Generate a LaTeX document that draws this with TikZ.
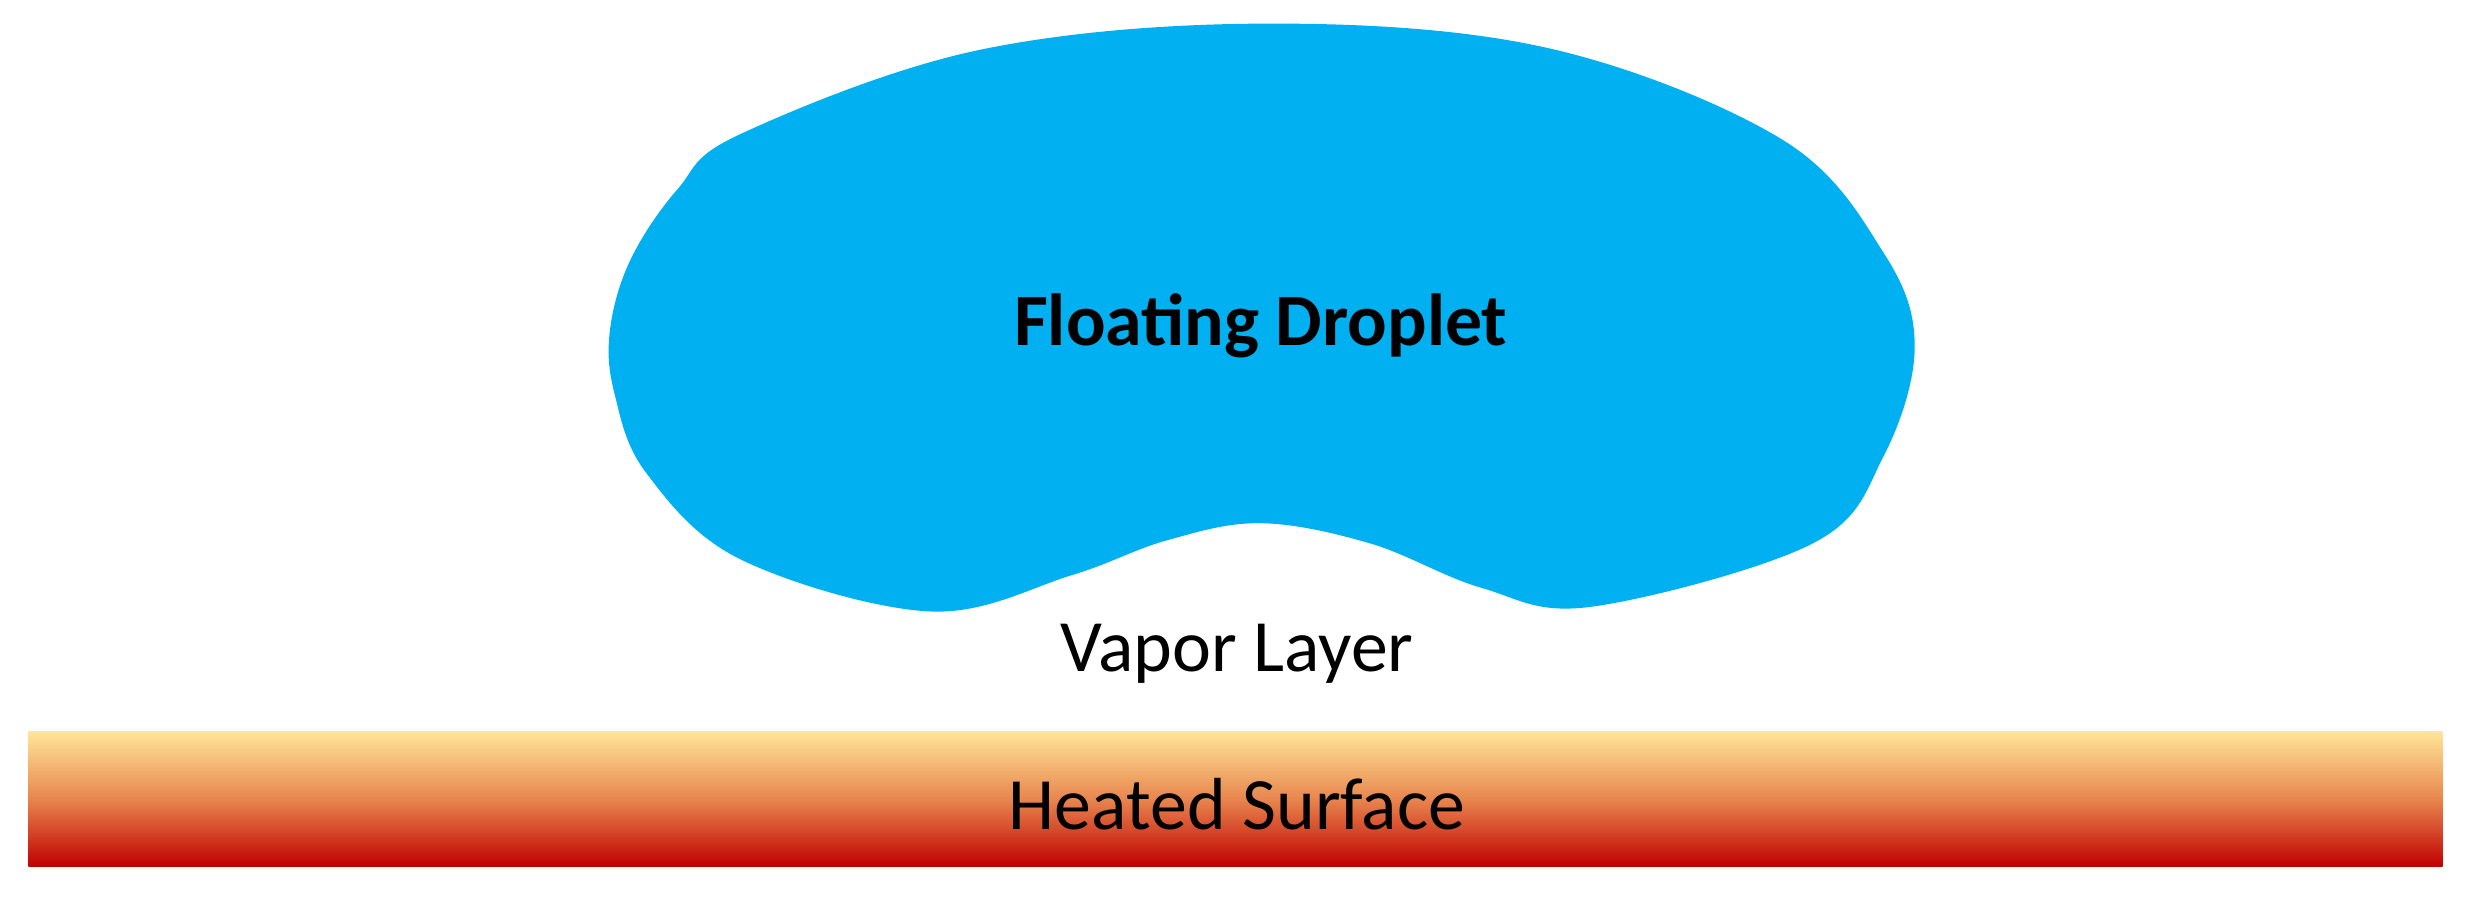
\documentclass[tikz,border=0pt]{standalone}
\usepackage{fontspec}
\setmainfont{Carlito}
\definecolor{drop}{HTML}{00B0F0}
\definecolor{hy}{HTML}{FFE699}
\definecolor{ho}{HTML}{E8864E}
\definecolor{hr}{HTML}{C00000}
\begin{document}
\begin{tikzpicture}[x=0.015759cm,y=-0.015759cm,
  lbl/.style={font=\fontsize{21}{25}\selectfont,inner sep=0pt}]
\useasboundingbox (0,0) rectangle (1568,575.5);
\fill[drop] plot[smooth cycle,tension=0.6] coordinates {
 (470,85) (620,32) (800,15) (980,30) (1130,88) (1195,160) (1215,220)
 (1195,290) (1150,345) (1010,385) (940,373) (870,345) (800,332)
 (740,343) (680,365) (590,388) (470,355) (410,300) (390,250)
 (387,210) (400,165) (430,120)};
\node[lbl,font=\fontsize{21}{25}\selectfont\bfseries] (drop) at (800,207) {Floating Droplet};
\node[lbl] (vap) at (785,415) {Vapor Layer};
\shade[top color=hy,bottom color=hr,middle color=ho] (18,464) rectangle (1550,550);
\node[lbl] (surf) at (785,510) {Heated Surface};
\end{tikzpicture}
\end{document}
